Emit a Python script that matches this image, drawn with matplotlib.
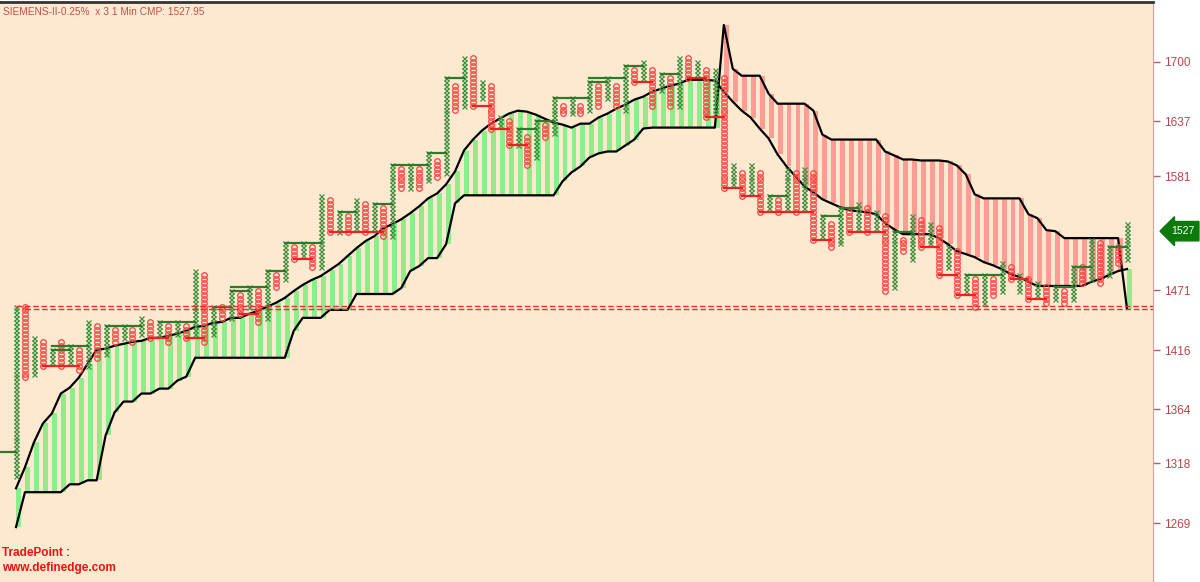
import numpy as np
import matplotlib
matplotlib.use("Agg")
import matplotlib.pyplot as plt
from matplotlib.ticker import NullLocator

plt.rcParams["font.family"] = ["Liberation Sans", "DejaVu Sans"]

title = "SIEMENS-II-0.25%  x 3 1 Min CMP: 1527.95"
box_pct = 0.25
cmp_price = 1527.0
cmp_label = "1527"
ytick_vals = [1269, 1318, 1364, 1416, 1471, 1581, 1637, 1700]

# point & figure columns (even = X, odd = O), top and bottom price of each column
col_types = "XO" * 62 + "X"
col_tops = [1456, 1454, 1427, 1424, 1418, 1424, 1420, 1417, 1442, 1438,
            1438, 1434, 1436, 1434, 1445, 1441, 1441, 1438, 1443, 1438,
            1489, 1486, 1454, 1455, 1472, 1467, 1475, 1471, 1490, 1486,
            1515, 1513, 1514, 1513, 1563, 1558, 1547, 1543, 1558, 1554,
            1555, 1551, 1594, 1590, 1594, 1590, 1603, 1598, 1681, 1675,
            1705, 1702, 1680, 1675, 1643, 1639, 1627, 1622, 1636, 1632,
            1660, 1655, 1660, 1655, 1677, 1673, 1681, 1675, 1695, 1689,
            1698, 1692, 1686, 1681, 1705, 1702, 1698, 1692, 1689, 1684,
            1591, 1586, 1591, 1586, 1563, 1558, 1589, 1586, 1590, 1586,
            1541, 1536, 1551, 1546, 1553, 1549, 1546, 1542, 1525, 1520,
            1542, 1539, 1535, 1531, 1511, 1508, 1484, 1481, 1486, 1481,
            1496, 1492, 1486, 1481, 1478, 1475, 1475, 1472, 1493, 1491,
            1519, 1515, 1513, 1510, 1535]
col_bottoms = [1308, 1393, 1396, 1404, 1407, 1404, 1407, 1400, 1404, 1410,
               1414, 1424, 1427, 1424, 1431, 1427, 1431, 1424, 1431, 1427,
               1432, 1424, 1429, 1444, 1445, 1449, 1456, 1443, 1445, 1475,
               1480, 1501, 1505, 1491, 1491, 1525, 1528, 1528, 1532, 1525,
               1530, 1521, 1524, 1569, 1571, 1571, 1575, 1579, 1584, 1650,
               1655, 1655, 1660, 1630, 1631, 1611, 1614, 1594, 1599, 1619,
               1623, 1644, 1645, 1644, 1648, 1655, 1661, 1654, 1649, 1677,
               1681, 1652, 1672, 1652, 1655, 1682, 1686, 1642, 1647, 1571,
               1574, 1563, 1566, 1547, 1551, 1547, 1551, 1547, 1551, 1520,
               1524, 1513, 1515, 1528, 1532, 1528, 1532, 1472, 1475, 1506,
               1501, 1513, 1515, 1486, 1491, 1467, 1470, 1454, 1458, 1468,
               1470, 1481, 1470, 1464, 1467, 1461, 1464, 1461, 1464, 1478,
               1481, 1478, 1487, 1498, 1501]

# cloud boundaries, one value per column
line_a = [1297.4, 1314.8, 1335.7, 1351.8, 1360.4, 1377.7, 1382.9, 1391.6, 1404.0, 1416.5,
          1417.4, 1420.1, 1421.8, 1423.6, 1424.5, 1427.2, 1427.2, 1429.1, 1430.9, 1433.6,
          1437.2, 1438.1, 1440.8, 1441.7, 1445.4, 1445.4, 1449.0, 1451.8, 1455.5, 1459.2,
          1463.8, 1470.2, 1475.9, 1480.5, 1484.2, 1489.8, 1495.5, 1503.1, 1510.7, 1517.4,
          1522.2, 1529.9, 1533.8, 1538.6, 1544.5, 1551.3, 1559.1, 1564.0, 1573.0, 1586.0,
          1607.1, 1618.3, 1627.5, 1634.7, 1639.9, 1645.1, 1648.2, 1647.2, 1644.1, 1639.9,
          1635.8, 1633.7, 1630.6, 1634.7, 1634.7, 1641.0, 1645.1, 1650.3, 1654.5, 1659.7,
          1662.9, 1668.1, 1671.3, 1674.5, 1676.6, 1680.8, 1680.8, 1680.8, 1679.8, 1668.1,
          1657.6, 1648.2, 1641.0, 1629.6, 1619.4, 1603.1, 1591.0, 1581.0, 1571.0, 1565.0,
          1558.2, 1554.2, 1550.3, 1547.4, 1546.4, 1545.4, 1543.5, 1534.8, 1528.9, 1524.1,
          1524.1, 1524.1, 1524.1, 1520.3, 1514.5, 1507.8, 1505.0, 1502.1, 1497.4, 1494.5,
          1490.8, 1486.1, 1483.3, 1478.7, 1474.9, 1474.9, 1474.9, 1474.9, 1474.9, 1474.9,
          1478.7, 1481.4, 1485.2, 1488.9, 1490.8]
line_b = [1265.9, 1294.2, 1294.2, 1294.2, 1294.2, 1294.2, 1300.7, 1300.7, 1304.0, 1304.0,
          1341.6, 1361.3, 1370.7, 1370.7, 1377.7, 1377.7, 1382.0, 1382.0, 1389.0, 1392.5,
          1409.3, 1409.3, 1409.3, 1409.3, 1409.3, 1409.3, 1409.3, 1409.3, 1409.3, 1409.3,
          1409.3, 1433.6, 1445.4, 1445.4, 1445.4, 1452.7, 1452.7, 1452.7, 1467.4, 1467.4,
          1467.4, 1467.4, 1467.4, 1473.0, 1488.9, 1493.6, 1501.2, 1501.2, 1514.5, 1554.2,
          1562.1, 1562.1, 1562.1, 1562.1, 1562.1, 1562.1, 1562.1, 1562.1, 1562.1, 1562.1,
          1562.1, 1576.0, 1585.0, 1591.0, 1600.0, 1604.1, 1606.1, 1606.1, 1612.2, 1618.3,
          1629.6, 1630.6, 1630.6, 1630.6, 1630.6, 1630.6, 1630.6, 1630.6, 1630.6, 1740.2,
          1692.5, 1685.1, 1685.1, 1685.1, 1666.0, 1655.5, 1655.5, 1655.5, 1655.5, 1648.2,
          1623.4, 1618.3, 1618.3, 1618.3, 1618.3, 1618.3, 1618.3, 1606.1, 1602.1, 1598.0,
          1598.0, 1597.0, 1597.0, 1597.0, 1596.0, 1592.0, 1583.0, 1563.1, 1559.1, 1559.1,
          1559.1, 1559.1, 1559.1, 1543.5, 1539.6, 1528.0, 1527.0, 1520.3, 1520.3, 1520.3,
          1520.3, 1520.3, 1520.3, 1520.3, 1453.6]

prev_x_top = 1328.0            # resistance carried in from before the first column
dashed_levels = [1456.4, 1453.3]
dashed_start = [0, 1]

bg = "#fde9cf"
x_col = "#3f8f3f"
o_col = "#ff4040"
green_fill = "#8fec8a"
red_fill = "#ff9d94"
txt_col = "#c0504d"

fig = plt.figure(figsize=(12, 5.82), dpi=100)
ax = fig.add_axes([0, 0, 1153 / 1200, 1 - 2 / 582])
ax.set_facecolor(bg)
ax.set_yscale("log")
ax.set_ylim(1222.6, 1765.7)
ax.set_xlim(-1.786, 126.9)

n = len(col_types)
idx = np.arange(n)

# cloud stripes
a = np.array(line_a)
b = np.array(line_b)
lo = np.minimum(a, b)
hi = np.maximum(a, b)
fills = [green_fill if a[i] >= b[i] else red_fill for i in range(n)]
ax.bar(idx, hi - lo, bottom=lo, width=0.55, align="edge", color=fills, zorder=1)
ax.plot(idx, a, color="black", lw=1.6, zorder=3)
ax.plot(idx, b, color="black", lw=1.6, zorder=3)

# boxes on a common 0.25% grid
ratio = 1 + box_pct / 100
base = 1269.0
top_k = [int(round(np.log(p / base) / np.log(ratio))) for p in col_tops]
bot_k = [int(round(np.log(p / base) / np.log(ratio))) for p in col_bottoms]

xs_x, ys_x, xs_o, ys_o = [], [], [], []
for i, t in enumerate(col_types):
    lv = base * ratio ** np.arange(bot_k[i], top_k[i] + 1)
    if t == "X":
        xs_x += [i] * len(lv)
        ys_x += list(lv)
    else:
        xs_o += [i] * len(lv)
        ys_o += list(lv)
ax.plot(xs_x, ys_x, ls="none", marker="x", ms=3.6, mew=0.9, color=x_col, zorder=4)
ax.plot(xs_o, ys_o, ls="none", marker="o", ms=4.0, mew=0.9, mfc="none", mec=o_col, zorder=4)

# breakout lines: previous top (X) or bottom (O) carried to the breaking column
for k in range(2, n):
    if col_types[k] == "X":
        if top_k[k] <= top_k[k - 2]:
            continue
        lvl = top_k[k - 2]
        start = k - 2
        while start - 2 >= 0 and lvl - 1 <= top_k[start - 2] <= lvl:
            start -= 2
        ax.plot([start, k], [base * ratio ** lvl] * 2, color="#2c7a2c", lw=1.6, zorder=5)
    else:
        if bot_k[k] >= bot_k[k - 2]:
            continue
        lvl = bot_k[k - 2]
        start = k - 2
        while start - 2 >= 0 and lvl <= bot_k[start - 2] <= lvl + 1:
            start -= 2
        ax.plot([start, k], [base * ratio ** lvl] * 2, color="#ee2020", lw=1.6, zorder=5)

ax.plot([-1.786, 0], [prev_x_top] * 2, color="#2c7a2c", lw=1.6, zorder=5)

for lvl, s in zip(dashed_levels, dashed_start):
    ax.plot([s, 126.9], [lvl, lvl], color="#e83030", lw=1.0, ls=(0, (4, 2)), zorder=5)
ax.plot([1, 1], dashed_levels, color="#e83030", lw=1.0, ls=(0, (2, 1)), zorder=5)

# axes styling
for side in ["left", "bottom"]:
    ax.spines[side].set_visible(False)
ax.spines["top"].set_color("#333333")
ax.spines["top"].set_linewidth(2)
ax.spines["right"].set_color("#d8a0a0")
ax.set_xticks([])
ax.yaxis.tick_right()
ax.set_yticks(ytick_vals)
ax.set_yticklabels([str(v) for v in ytick_vals])
ax.yaxis.set_minor_locator(NullLocator())
ax.tick_params(axis="y", direction="out", length=5, width=1, color="#b06060",
               labelcolor="#b5474a", labelsize=8.5, pad=3)

ax.text(1.0 + 18 / 1153, cmp_price, cmp_label, transform=ax.get_yaxis_transform(),
        ha="left", va="center", color="white", fontsize=7.5, clip_on=False,
        bbox=dict(boxstyle="larrow,pad=0.45", fc="#0b7a0b", ec="#0b7a0b"))

fig.text(3 / 1200, 1 - 12 / 582, title, color=txt_col, fontsize=7.3, va="center")
fig.text(2 / 1200, 1 - 553 / 582, "TradePoint :", color="#ee1111", fontsize=8.5,
         fontweight="bold", va="center")
fig.text(2 / 1200, 1 - 568 / 582, "www.definedge.com", color="#ee1111", fontsize=8.5,
         fontweight="bold", va="center")

fig.savefig("out.png", dpi=100, facecolor="white")
